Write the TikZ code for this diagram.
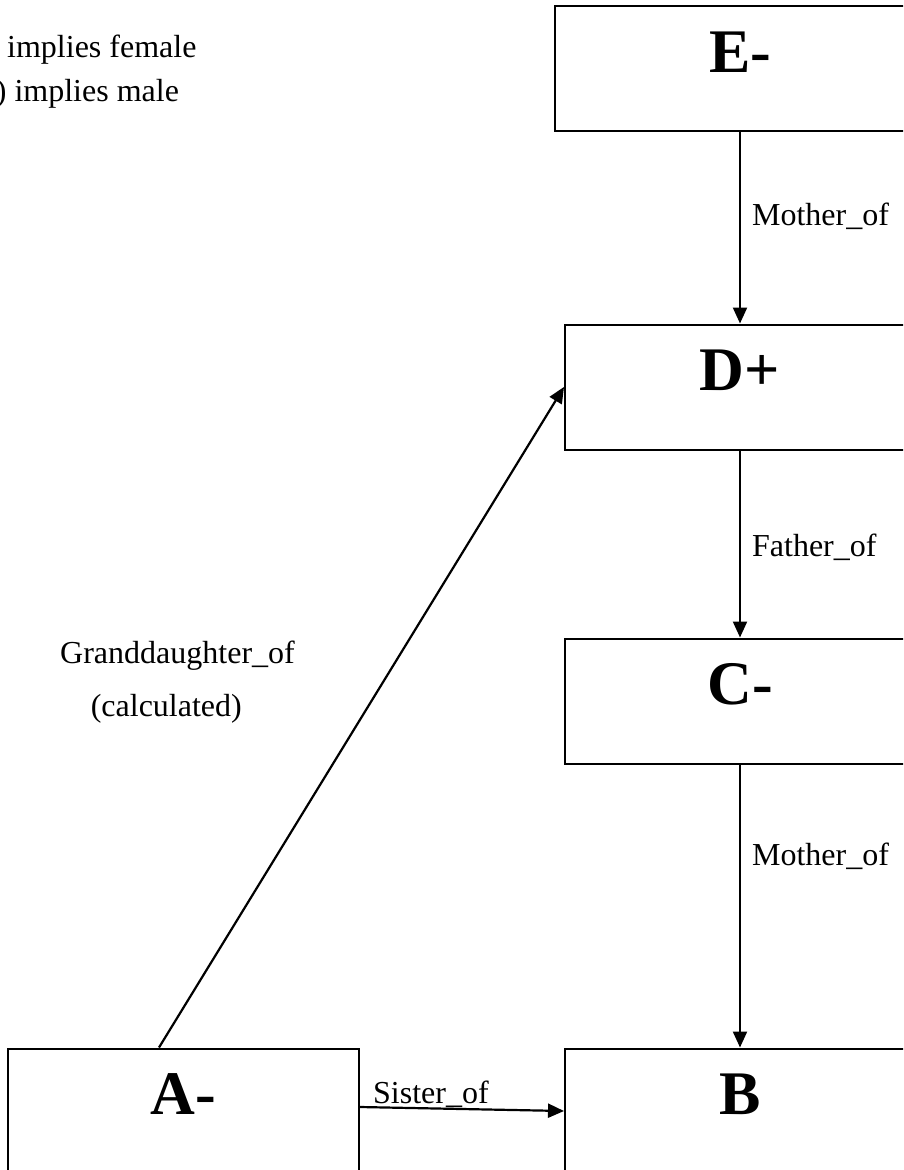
\documentclass[tikz,border=0pt]{standalone}
\usepackage{fontspec}
\setmainfont{Liberation Serif}
\usetikzlibrary{arrows.meta,calc}

\newlength{\du}
\setlength{\du}{1pt}

\tikzset{
  person/.style={draw=black, fill=white, line width=2\du, minimum height=125\du, inner sep=0pt},
  tag/.style={anchor=base, inner sep=0pt, font=\fontsize{62}{70}\selectfont\bfseries},
  rel/.style={inner sep=0pt, font=\fontsize{32}{38}\selectfont},
  arr/.style={line width=2.2\du, -{Triangle[length=16pt,width=14pt]}}
}

\begin{document}
\begin{tikzpicture}
\pgftransformxscale{1.000000}
\pgftransformyscale{-1.000000}
\useasboundingbox (0\du,0\du) rectangle (903\du,1170\du);
\clip (0\du,0\du) rectangle (903\du,1170\du);
% legend
\node[rel, anchor=base west] (legf) at (-33\du,57\du) {(-) implies female};
\node[rel, anchor=base west] (legm) at (-33\du,101\du) {(+) implies male};
% people
\node[person, minimum width=370\du] (boxE) at (740\du,68.5\du) {};
\node[tag] (tagE) at (740\du,72\du) {E-};
\node[person, minimum width=350\du] (boxD) at (740\du,387\du) {};
\node[tag] (tagD) at (740\du,390\du) {D+};
\node[person, minimum width=350\du] (boxC) at (740\du,701\du) {};
\node[tag] (tagC) at (740\du,704\du) {C-};
\node[person, minimum width=350\du] (boxB) at (740\du,1111\du) {};
\node[tag] (tagB) at (740\du,1114\du) {B};
\node[person, minimum width=351\du] (boxA) at (183.5\du,1111\du) {};
\node[tag] (tagA) at (183.5\du,1114\du) {A-};
% relations
\draw[arr] (boxE) -- node[rel, pos=0.49, anchor=base west, xshift=11pt] (relED) {Mother\_of} (boxD);
\draw[arr] (boxD) -- node[rel, pos=0.565, anchor=base west, xshift=11pt] (relDC) {Father\_of} (boxC);
\draw[arr] (boxC) -- node[rel, pos=0.357, anchor=base west, xshift=11pt] (relCB) {Mother\_of} (boxB);
\draw[arr] ($(boxA.east)+(0,-4\du)$) -- (boxB.west);
\node[rel, anchor=base west] (relAB) at (373\du,1103\du) {Sister\_of};
% calculated link
\draw[arr] ($(boxA.north)+(-24.5\du,0)$) -- (boxD.west);
\node[rel, anchor=base east] (relAD) at (295\du,663\du) {Granddaughter\_of};
\node[rel, anchor=base east] (relnote) at (242\du,716\du) {(calculated)};
\end{tikzpicture}
\end{document}
